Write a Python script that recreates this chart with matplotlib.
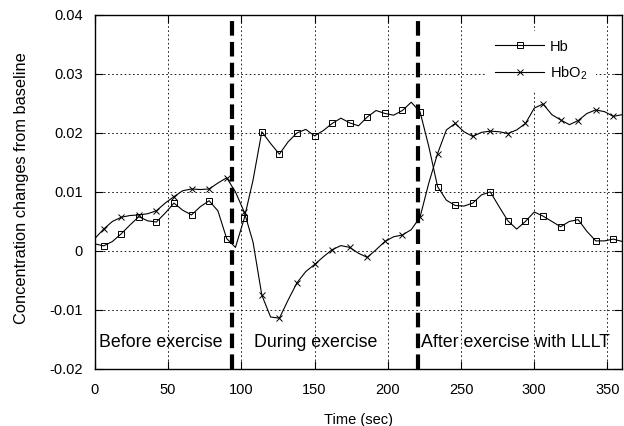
import numpy as np
import matplotlib
matplotlib.use('Agg')
import matplotlib.pyplot as plt
from matplotlib.ticker import FuncFormatter

plt.rcParams['font.family'] = ['Liberation Sans', 'DejaVu Sans']
plt.rcParams['mathtext.fontset'] = 'custom'
plt.rcParams['mathtext.rm'] = 'Liberation Sans'

# time axis, one value every 6 s; markers sit on every second point (6, 18, 30 ...)
t = np.arange(0, 361, 6)

hb = [0.0012, 0.00085, 0.0016, 0.0029, 0.0044, 0.0058, 0.0051, 0.0049, 0.0064, 0.0081,
      0.0069, 0.0061, 0.0075, 0.0085, 0.0068, 0.0021, 0.0006, 0.0055, 0.0120, 0.0202,
      0.0182, 0.0164, 0.0185, 0.0200, 0.0206, 0.0195, 0.0204, 0.0216, 0.0225, 0.0217,
      0.0212, 0.0227, 0.0238, 0.0233, 0.0230, 0.0238, 0.0252, 0.0236, 0.0177, 0.0109,
      0.0086, 0.0077, 0.0076, 0.0081, 0.0095, 0.0100, 0.0075, 0.0051, 0.0037, 0.0050,
      0.0066, 0.0059, 0.0050, 0.0041, 0.0050, 0.0053, 0.0033, 0.0017, 0.0017, 0.0020,
      0.0016]

hbo2 = [0.0021, 0.0037, 0.0050, 0.0057, 0.0060, 0.0061, 0.0063, 0.0068, 0.0081, 0.0092,
        0.0102, 0.0105, 0.0104, 0.0105, 0.0115, 0.0124, 0.0100, 0.0066, 0.0015, -0.0075,
        -0.0112, -0.0114, -0.0083, -0.0054, -0.0035, -0.0023, -0.0010, 0.0002, 0.0009, 0.0006,
        -0.0004, -0.0011, 0.0002, 0.0016, 0.0024, 0.0027, 0.0036, 0.0057, 0.0115, 0.0165,
        0.0205, 0.0216, 0.0202, 0.0194, 0.0201, 0.0203, 0.0202, 0.0199, 0.0205, 0.0216,
        0.0242, 0.0249, 0.0231, 0.0222, 0.0214, 0.0221, 0.0233, 0.0239, 0.0236, 0.0228,
        0.0231]

phase_bounds = [93.5, 220.5]
phase_names = ['Before exercise', 'During exercise', 'After exercise with LLLT']
phase_text_x = [3, 109, 223]

fig = plt.figure(figsize=(6.24, 4.26), dpi=100)
ax = fig.add_axes([0.152, 0.134, 0.845, 0.831])

ax.plot(t, hb, color='black', lw=0.8, marker='s', mfc='none', mec='black',
        ms=5, mew=0.7, markevery=slice(1, None, 2), label='Hb')
ax.plot(t, hbo2, color='black', lw=0.8, marker='x', ms=5, mew=0.7,
        markevery=slice(1, None, 2), label=r'HbO$_\mathregular{2}$')

for xb in phase_bounds:
    ax.axvline(xb, color='black', lw=3, ls=(0, (3.5, 1.5)), zorder=3)

for name, xt in zip(phase_names, phase_text_x):
    ax.text(xt, -0.0155, name, fontsize=12.8, va='center', ha='left')

ax.set_xlim(0, 360)
ax.set_ylim(-0.02, 0.04)
ax.set_xticks(np.arange(0, 351, 50))
ax.set_yticks(np.arange(-0.02, 0.041, 0.01))
ax.yaxis.set_major_formatter(FuncFormatter(lambda v, p: '0' if abs(v) < 1e-9 else ('%.2f' % v)))
ax.grid(True, color='black', ls=(0, (2, 3)), lw=0.6)
ax.tick_params(direction='in', top=True, right=True, labelsize=10.5, length=6)
ax.tick_params(axis='x', pad=10.5)
ax.tick_params(axis='y', pad=8.5)
for s in ax.spines.values():
    s.set_linewidth(1.0)

ax.set_xlabel('Time (sec)', fontsize=10.5, labelpad=11)
ax.set_ylabel('Concentration changes from baseline', fontsize=11.8, labelpad=16)
ax.yaxis.set_label_coords(-0.125, 0.51)

leg = ax.legend(loc='upper right', bbox_to_anchor=(0.951, 0.955), borderaxespad=0,
                frameon=True, fontsize=10.5, handlelength=3.4, handletextpad=0.4,
                borderpad=0.6, labelspacing=0.75)
leg.get_frame().set_edgecolor('none')
leg.get_frame().set_facecolor('white')
leg.get_frame().set_alpha(1)
leg.get_frame().set_boxstyle('square', pad=0)

fig.savefig('out.png', dpi=100)
